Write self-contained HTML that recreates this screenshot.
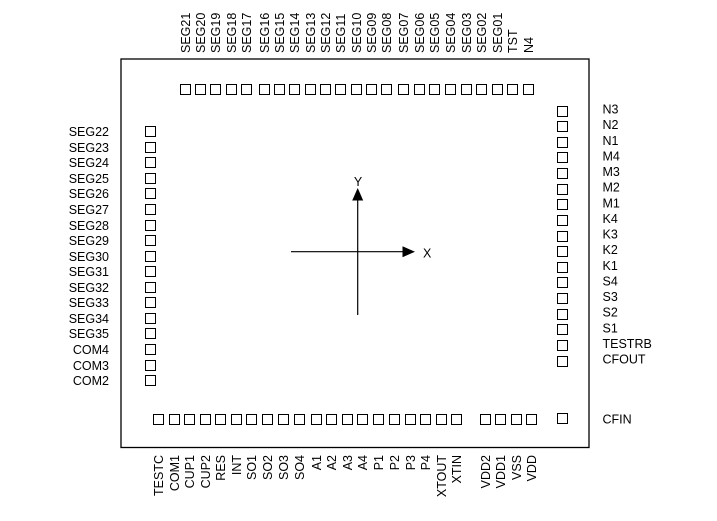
<!DOCTYPE html>
<html>
<head>
<meta charset="utf-8">
<style>
html,body{margin:0;padding:0;background:#fff;}
svg{display:block;}
text{font-family:"Liberation Sans",Arial,sans-serif;font-size:12.5px;fill:#000;}
</style>
</head>
<body>
<svg width="717" height="521" viewBox="0 0 717 521" xmlns="http://www.w3.org/2000/svg">
<rect x="0" y="0" width="717" height="521" fill="#fff"/>
<!-- chip outline -->
<rect x="121" y="59" width="468" height="388.5" fill="none" stroke="#000" stroke-width="1.3"/>

<g fill="#fff" stroke="#000" stroke-width="1">
<!-- top pads -->
<rect x="180.5" y="84.5" width="10" height="10"/>
<rect x="195.5" y="84.5" width="10" height="10"/>
<rect x="210.5" y="84.5" width="10" height="10"/>
<rect x="226.5" y="84.5" width="10" height="10"/>
<rect x="241.5" y="84.5" width="10" height="10"/>
<rect x="259.5" y="84.5" width="10" height="10"/>
<rect x="274.5" y="84.5" width="10" height="10"/>
<rect x="289.5" y="84.5" width="10" height="10"/>
<rect x="305.5" y="84.5" width="10" height="10"/>
<rect x="320.5" y="84.5" width="10" height="10"/>
<rect x="335.5" y="84.5" width="10" height="10"/>
<rect x="351.5" y="84.5" width="10" height="10"/>
<rect x="366.5" y="84.5" width="10" height="10"/>
<rect x="381.5" y="84.5" width="10" height="10"/>
<rect x="398.5" y="84.5" width="10" height="10"/>
<rect x="414.5" y="84.5" width="10" height="10"/>
<rect x="429.5" y="84.5" width="10" height="10"/>
<rect x="445.5" y="84.5" width="10" height="10"/>
<rect x="461.5" y="84.5" width="10" height="10"/>
<rect x="476.5" y="84.5" width="10" height="10"/>
<rect x="492.5" y="84.5" width="10" height="10"/>
<rect x="507.5" y="84.5" width="10" height="10"/>
<rect x="523.5" y="84.5" width="10" height="10"/>

<!-- left pads -->
<rect x="145.5" y="126.5" width="10" height="10"/>
<rect x="145.5" y="142.5" width="10" height="10"/>
<rect x="145.5" y="157.5" width="10" height="10"/>
<rect x="145.5" y="173.5" width="10" height="10"/>
<rect x="145.5" y="188.5" width="10" height="10"/>
<rect x="145.5" y="204.5" width="10" height="10"/>
<rect x="145.5" y="220.5" width="10" height="10"/>
<rect x="145.5" y="235.5" width="10" height="10"/>
<rect x="145.5" y="251.5" width="10" height="10"/>
<rect x="145.5" y="266.5" width="10" height="10"/>
<rect x="145.5" y="282.5" width="10" height="10"/>
<rect x="145.5" y="297.5" width="10" height="10"/>
<rect x="145.5" y="313.5" width="10" height="10"/>
<rect x="145.5" y="328.5" width="10" height="10"/>
<rect x="145.5" y="344.5" width="10" height="10"/>
<rect x="145.5" y="360.5" width="10" height="10"/>
<rect x="145.5" y="375.5" width="10" height="10"/>

<!-- right pads -->
<rect x="557.5" y="106.5" width="10" height="10"/>
<rect x="557.5" y="121.5" width="10" height="10"/>
<rect x="557.5" y="137.5" width="10" height="10"/>
<rect x="557.5" y="152.5" width="10" height="10"/>
<rect x="557.5" y="168.5" width="10" height="10"/>
<rect x="557.5" y="184.5" width="10" height="10"/>
<rect x="557.5" y="199.5" width="10" height="10"/>
<rect x="557.5" y="215.5" width="10" height="10"/>
<rect x="557.5" y="231.5" width="10" height="10"/>
<rect x="557.5" y="246.5" width="10" height="10"/>
<rect x="557.5" y="262.5" width="10" height="10"/>
<rect x="557.5" y="277.5" width="10" height="10"/>
<rect x="557.5" y="293.5" width="10" height="10"/>
<rect x="557.5" y="309.5" width="10" height="10"/>
<rect x="557.5" y="324.5" width="10" height="10"/>
<rect x="557.5" y="340.5" width="10" height="10"/>
<rect x="557.5" y="356.5" width="10" height="10"/>
<rect x="557.5" y="413.5" width="10" height="10"/>

<!-- bottom pads -->
<rect x="153.5" y="414.5" width="10" height="10"/>
<rect x="169.5" y="414.5" width="10" height="10"/>
<rect x="184.5" y="414.5" width="10" height="10"/>
<rect x="200.5" y="414.5" width="10" height="10"/>
<rect x="215.5" y="414.5" width="10" height="10"/>
<rect x="231.5" y="414.5" width="10" height="10"/>
<rect x="246.5" y="414.5" width="10" height="10"/>
<rect x="262.5" y="414.5" width="10" height="10"/>
<rect x="278.5" y="414.5" width="10" height="10"/>
<rect x="294.5" y="414.5" width="10" height="10"/>
<rect x="311.5" y="414.5" width="10" height="10"/>
<rect x="326.5" y="414.5" width="10" height="10"/>
<rect x="342.5" y="414.5" width="10" height="10"/>
<rect x="357.5" y="414.5" width="10" height="10"/>
<rect x="373.5" y="414.5" width="10" height="10"/>
<rect x="389.5" y="414.5" width="10" height="10"/>
<rect x="405.5" y="414.5" width="10" height="10"/>
<rect x="420.5" y="414.5" width="10" height="10"/>
<rect x="436.5" y="414.5" width="10" height="10"/>
<rect x="451.5" y="414.5" width="10" height="10"/>
<rect x="480.5" y="414.5" width="10" height="10"/>
<rect x="495.5" y="414.5" width="10" height="10"/>
<rect x="511.5" y="414.5" width="10" height="10"/>
<rect x="526.5" y="414.5" width="10" height="10"/>
</g>

<!-- top labels (rotated, start at bottom) -->
<text transform="translate(190,53) rotate(-90)">SEG21</text>
<text transform="translate(205,53) rotate(-90)">SEG20</text>
<text transform="translate(220,53) rotate(-90)">SEG19</text>
<text transform="translate(236,53) rotate(-90)">SEG18</text>
<text transform="translate(251,53) rotate(-90)">SEG17</text>
<text transform="translate(269,53) rotate(-90)">SEG16</text>
<text transform="translate(284,53) rotate(-90)">SEG15</text>
<text transform="translate(299,53) rotate(-90)">SEG14</text>
<text transform="translate(315,53) rotate(-90)">SEG13</text>
<text transform="translate(330,53) rotate(-90)">SEG12</text>
<text transform="translate(345,53) rotate(-90)">SEG11</text>
<text transform="translate(361,53) rotate(-90)">SEG10</text>
<text transform="translate(376,53) rotate(-90)">SEG09</text>
<text transform="translate(391,53) rotate(-90)">SEG08</text>
<text transform="translate(408,53) rotate(-90)">SEG07</text>
<text transform="translate(424,53) rotate(-90)">SEG06</text>
<text transform="translate(439,53) rotate(-90)">SEG05</text>
<text transform="translate(455,53) rotate(-90)">SEG04</text>
<text transform="translate(471,53) rotate(-90)">SEG03</text>
<text transform="translate(486,53) rotate(-90)">SEG02</text>
<text transform="translate(502,53) rotate(-90)">SEG01</text>
<text transform="translate(517,53) rotate(-90)">TST</text>
<text transform="translate(533,53) rotate(-90)">N4</text>

<!-- left labels -->
<g text-anchor="end">
<text x="109" y="136">SEG22</text>
<text x="109" y="152">SEG23</text>
<text x="109" y="167">SEG24</text>
<text x="109" y="183">SEG25</text>
<text x="109" y="198">SEG26</text>
<text x="109" y="214">SEG27</text>
<text x="109" y="230">SEG28</text>
<text x="109" y="245">SEG29</text>
<text x="109" y="261">SEG30</text>
<text x="109" y="276">SEG31</text>
<text x="109" y="292">SEG32</text>
<text x="109" y="307">SEG33</text>
<text x="109" y="323">SEG34</text>
<text x="109" y="338">SEG35</text>
<text x="109" y="354">COM4</text>
<text x="109" y="370">COM3</text>
<text x="109" y="385">COM2</text>
</g>

<!-- right labels -->
<text x="602.5" y="113.5">N3</text>
<text x="602.5" y="129">N2</text>
<text x="602.5" y="145">N1</text>
<text x="602.5" y="160.5">M4</text>
<text x="602.5" y="176">M3</text>
<text x="602.5" y="191.5">M2</text>
<text x="602.5" y="207.5">M1</text>
<text x="602.5" y="223">K4</text>
<text x="602.5" y="238.5">K3</text>
<text x="602.5" y="254">K2</text>
<text x="602.5" y="270">K1</text>
<text x="602.5" y="285.5">S4</text>
<text x="602.5" y="301">S3</text>
<text x="602.5" y="316.5">S2</text>
<text x="602.5" y="332.5">S1</text>
<text x="602.5" y="348">TESTRB</text>
<text x="602.5" y="363.5">CFOUT</text>
<text x="602.5" y="423.3">CFIN</text>

<!-- bottom labels (rotated, end at top) -->
<g text-anchor="end">
<text transform="translate(163,455) rotate(-90)">TESTC</text>
<text transform="translate(179,455) rotate(-90)">COM1</text>
<text transform="translate(194,455) rotate(-90)">CUP1</text>
<text transform="translate(210,455) rotate(-90)">CUP2</text>
<text transform="translate(225,455) rotate(-90)">RES</text>
<text transform="translate(241,455) rotate(-90)">INT</text>
<text transform="translate(256,455) rotate(-90)">SO1</text>
<text transform="translate(272,455) rotate(-90)">SO2</text>
<text transform="translate(288,455) rotate(-90)">SO3</text>
<text transform="translate(304,455) rotate(-90)">SO4</text>
<text transform="translate(321,455) rotate(-90)">A1</text>
<text transform="translate(336,455) rotate(-90)">A2</text>
<text transform="translate(352,455) rotate(-90)">A3</text>
<text transform="translate(367,455) rotate(-90)">A4</text>
<text transform="translate(383,455) rotate(-90)">P1</text>
<text transform="translate(399,455) rotate(-90)">P2</text>
<text transform="translate(415,455) rotate(-90)">P3</text>
<text transform="translate(430,455) rotate(-90)">P4</text>
<text transform="translate(446,455) rotate(-90)">XTOUT</text>
<text transform="translate(461,455) rotate(-90)">XTIN</text>
<text transform="translate(490,455) rotate(-90)">VDD2</text>
<text transform="translate(505,455) rotate(-90)">VDD1</text>
<text transform="translate(521,455) rotate(-90)">VSS</text>
<text transform="translate(536,455) rotate(-90)">VDD</text>
</g>

<!-- axes -->
<line x1="357.7" y1="199" x2="357.7" y2="315" stroke="#000" stroke-width="1.2"/>
<polygon points="357.7,188 352.2,200.5 363.2,200.5" fill="#000"/>
<line x1="291" y1="251.7" x2="404" y2="251.7" stroke="#000" stroke-width="1.2"/>
<polygon points="415,251.7 402.5,246.2 402.5,257.2" fill="#000"/>
<text x="358" y="186" text-anchor="middle">Y</text>
<text x="423" y="257.5">X</text>
</svg>
</body>
</html>
